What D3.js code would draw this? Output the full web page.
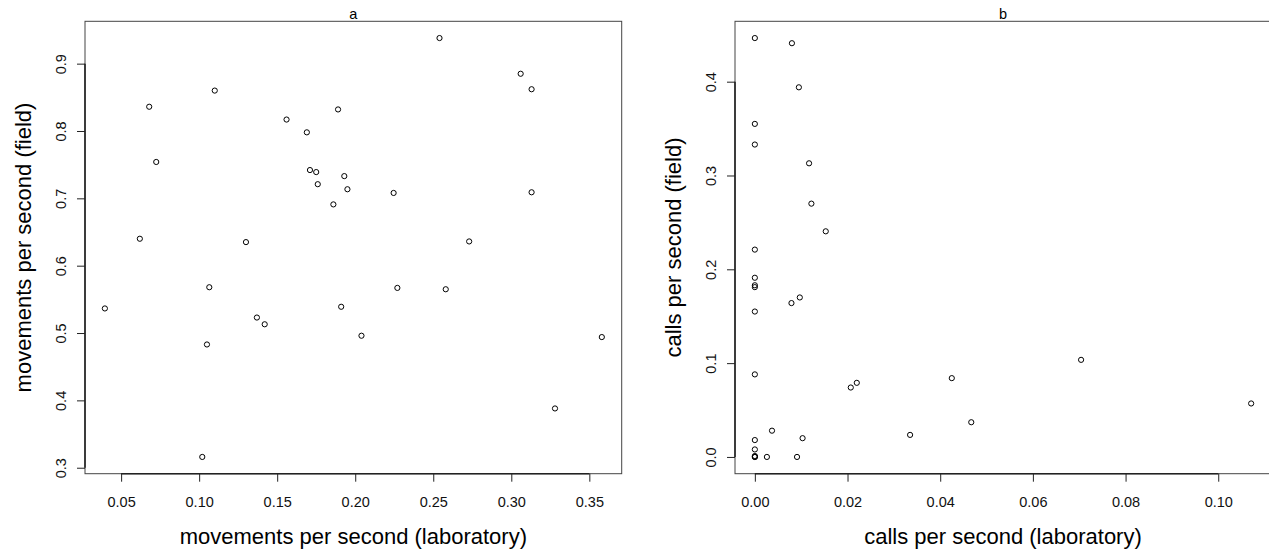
<!DOCTYPE html>
<html>
<head>
<meta charset="utf-8">
<script src="https://cdn.jsdelivr.net/npm/d3@7"></script>
<style>
  html, body { margin: 0; padding: 0; background: #fff; }
  svg { display: block; font-family: "Liberation Sans", Arial, Helvetica, sans-serif; }
</style>
</head>
<body>
<svg id="chart" width="1269" height="554"></svg>
<script>
// ---- data ----
const labMovements = [0.254, 0.306, 0.313, 0.110, 0.068, 0.189, 0.156, 0.169, 0.0725, 0.171, 0.175, 0.193, 0.176, 0.195, 0.2246, 0.313, 0.186, 0.062, 0.130, 0.273, 0.0396, 0.1065, 0.105, 0.137, 0.142, 0.191, 0.204, 0.227, 0.258, 0.358, 0.328, 0.102];
const fieldMovements = [0.938, 0.885, 0.862, 0.860, 0.836, 0.832, 0.817, 0.798, 0.754, 0.742, 0.739, 0.733, 0.721, 0.7135, 0.708, 0.709, 0.691, 0.640, 0.635, 0.636, 0.5365, 0.568, 0.483, 0.523, 0.513, 0.539, 0.496, 0.567, 0.565, 0.494, 0.388, 0.316];

const labCalls = [0, 0.0080, 0.0095, 0, 0, 0.0117, 0.0122, 0.0153, 0, 0, 0, 0, 0.0079, 0.0097, 0, 0.0704, 0, 0.0220, 0.0207, 0.0425, 0.1071, 0.0467, 0.0335, 0.0037, 0.0103, 0, 0, 0, 0, 0.0026, 0.0091, 0];
const fieldCalls = [0.4465, 0.441, 0.394, 0.355, 0.333, 0.313, 0.270, 0.2405, 0.221, 0.191, 0.183, 0.181, 0.164, 0.170, 0.155, 0.1035, 0.088, 0.079, 0.074, 0.084, 0.057, 0.037, 0.0235, 0.028, 0.020, 0.018, 0.008, 0, 0.001, 0, 0, 0];

const xTicksA = [0.05, 0.10, 0.15, 0.20, 0.25, 0.30, 0.35];
const yTicksA = [0.3, 0.4, 0.5, 0.6, 0.7, 0.8, 0.9];
const xTicksB = [0.00, 0.02, 0.04, 0.06, 0.08, 0.10];
const yTicksB = [0.0, 0.1, 0.2, 0.3, 0.4];

const panels = [
  { title: "a", xs: labMovements, ys: fieldMovements, xTicks: xTicksA, yTicks: yTicksA,
    xFmt: d3.format(".2f"), yFmt: d3.format(".1f"),
    xLabel: "movements per second (laboratory)", yLabel: "movements per second (field)",
    left: 85, right: 621.7, yTitleX: 31 },
  { title: "b", xs: labCalls, ys: fieldCalls, xTicks: xTicksB, yTicks: yTicksB,
    xFmt: d3.format(".2f"), yFmt: d3.format(".1f"),
    xLabel: "calls per second (laboratory)", yLabel: "calls per second (field)",
    left: 735, right: 1271, yTitleX: 681 }
];

const plotTop = 21.3, plotBottom = 473.7;
const svg = d3.select("#chart");

function padDomain(vals) {
  const [lo, hi] = d3.extent(vals);
  const r = hi - lo;
  return [lo - 0.04 * r, hi + 0.04 * r];
}

panels.forEach(p => {
  const x = d3.scaleLinear().domain(padDomain(p.xs)).range([p.left, p.right]);
  const y = d3.scaleLinear().domain(padDomain(p.ys)).range([plotBottom, plotTop]);
  const g = svg.append("g");

  // plot box
  g.append("rect")
    .attr("x", p.left).attr("y", plotTop)
    .attr("width", p.right - p.left).attr("height", plotBottom - plotTop)
    .attr("fill", "none").attr("stroke", "#444").attr("stroke-width", 1);

  // x axis
  const xa = g.append("g").attr("transform", `translate(0,${plotBottom})`)
    .call(d3.axisBottom(x).tickValues(p.xTicks).tickFormat(p.xFmt).tickSize(8).tickSizeOuter(0).tickPadding(8));
  xa.select(".domain").remove();
  xa.selectAll(".tick line").attr("stroke", "#222");
  xa.selectAll(".tick text").attr("font-size", 14.5).attr("fill", "#111")
    .attr("font-family", "Liberation Sans, Arial, sans-serif")
    .attr("y", 33.6).attr("dy", 0);
  g.append("line")
    .attr("x1", x(p.xTicks[0])).attr("x2", x(p.xTicks[p.xTicks.length - 1]))
    .attr("y1", plotBottom).attr("y2", plotBottom)
    .attr("stroke", "#222").attr("stroke-width", 1.6);

  // y axis
  const ya = g.append("g").attr("transform", `translate(${p.left},0)`)
    .call(d3.axisLeft(y).tickValues(p.yTicks).tickFormat(p.yFmt).tickSize(8).tickSizeOuter(0));
  ya.select(".domain").remove();
  ya.selectAll(".tick line").attr("stroke", "#222");
  ya.selectAll(".tick text").attr("font-size", 14.5).attr("fill", "#111")
    .attr("font-family", "Liberation Sans, Arial, sans-serif")
    .attr("transform", "rotate(-90)")
    .attr("x", 0).attr("y", -19).attr("dy", 0)
    .attr("text-anchor", "middle");
  g.append("line")
    .attr("x1", p.left).attr("x2", p.left)
    .attr("y1", y(p.yTicks[0])).attr("y2", y(p.yTicks[p.yTicks.length - 1]))
    .attr("stroke", "#222").attr("stroke-width", 1.6);

  // points
  g.selectAll("circle.pt").data(d3.range(p.xs.length)).join("circle")
    .attr("class", "pt")
    .attr("cx", i => x(p.xs[i])).attr("cy", i => y(p.ys[i]))
    .attr("r", 2.6)
    .attr("fill", "none").attr("stroke", "#000").attr("stroke-width", 1);

  // titles
  const cx = (p.left + p.right) / 2;
  g.append("text").attr("x", cx).attr("y", 19)
    .attr("text-anchor", "middle").attr("font-size", 14.5).attr("fill", "#000")
    .text(p.title);
  g.append("text").attr("x", cx).attr("y", 544)
    .attr("text-anchor", "middle").attr("font-size", 22).attr("fill", "#000")
    .text(p.xLabel);
  g.append("text")
    .attr("transform", `translate(${p.yTitleX},${(plotTop + plotBottom) / 2}) rotate(-90)`)
    .attr("text-anchor", "middle").attr("font-size", 22).attr("fill", "#000")
    .text(p.yLabel);
});
</script>
</body>
</html>
